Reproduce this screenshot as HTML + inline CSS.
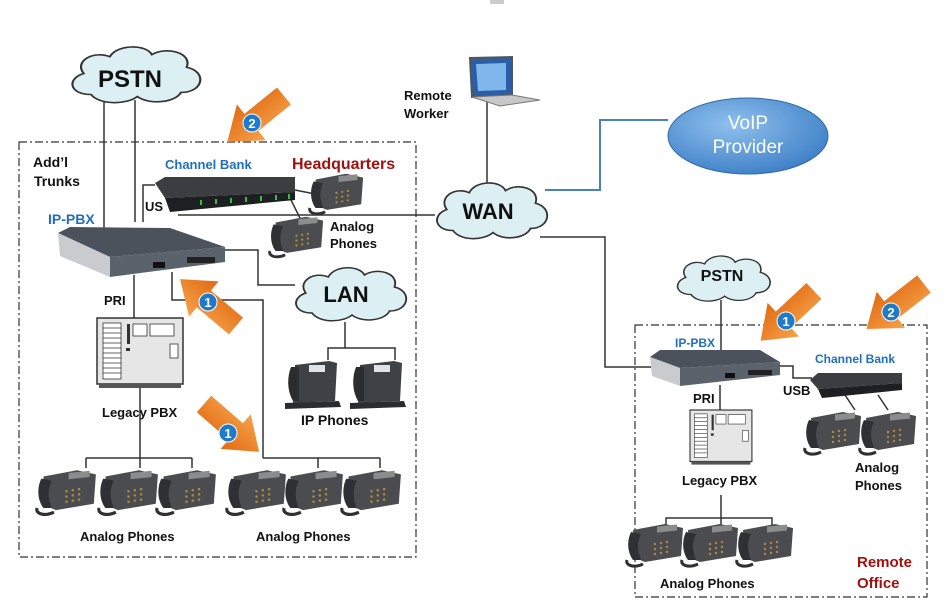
<!DOCTYPE html>
<html><head><meta charset="utf-8"><style>
html,body{margin:0;padding:0;background:#fff;}
svg{display:block;}
text{font-family:"Liberation Sans",Arial,sans-serif;font-weight:bold;}
</style></head><body>
<svg width="951" height="616" viewBox="0 0 951 616" xmlns="http://www.w3.org/2000/svg">
<defs>
<linearGradient id="og" x1="0" y1="0" x2="0" y2="1"><stop offset="0" stop-color="#f7a24a"/><stop offset="1" stop-color="#e06a12"/></linearGradient>
<radialGradient id="vg" cx="0.4" cy="0.35" r="0.7"><stop offset="0" stop-color="#8fc0ee"/><stop offset="1" stop-color="#3d7fc6"/></radialGradient>
<path id="cloud" d="M20,50 C5,50 3,35 15,30 C8,18 22,8 33,14 C38,2 58,2 62,12 C72,4 90,10 86,24 C100,28 98,48 82,48 C78,58 60,60 52,52 C44,60 26,60 20,50 Z"/>
<g id="arrow"><polygon points="0,-11 42,-11 42,-23 73,0 42,23 42,11 0,11" fill="url(#og)"/></g>
<g id="ph">
<path d="M8,10 L40,4 L58,8 L56,36 L20,42 L10,38 Z" fill="#4a4c50"/>
<path d="M6,12 C2,20 2,32 8,40 L16,40 C12,30 12,22 16,14 Z" fill="#2e3033"/>
<path d="M2,40 C0,46 10,48 18,44" stroke="#2e3033" stroke-width="3" fill="none"/>
<rect x="32" y="10" width="20" height="6" fill="#8a8d8c" transform="skewY(-6)"/>
<g fill="#b08a3a"><circle cx="30" cy="24" r="1.2"/><circle cx="36" cy="23" r="1.2"/><circle cx="42" cy="22" r="1.2"/><circle cx="30" cy="29" r="1.2"/><circle cx="36" cy="28" r="1.2"/><circle cx="42" cy="27" r="1.2"/><circle cx="30" cy="34" r="1.2"/><circle cx="36" cy="33" r="1.2"/><circle cx="42" cy="32" r="1.2"/></g>
</g>
<g id="ipph">
<path d="M10,8 L44,4 L52,6 L50,44 L8,46 Z" fill="#3e4145"/>
<path d="M6,10 C2,20 2,34 8,44 L14,44 L14,10 Z" fill="#2a2c2f"/>
<rect x="24" y="8" width="16" height="7" fill="#dfe3e4"/>
<path d="M0,46 L54,44 L56,50 L0,52 Z" fill="#2a2c2f"/>
</g>
<g id="lpbx">
<rect x="0" y="0" width="86" height="66" fill="#e6e6e6" stroke="#333" stroke-width="1.5"/>
<g fill="#fff" stroke="#333" stroke-width="0.8"><rect x="6" y="5" width="18" height="56"/><rect x="36" y="6" width="14" height="12"/><rect x="53" y="6" width="24" height="12"/><rect x="73" y="26" width="8" height="14"/></g>
<g stroke="#333" stroke-width="0.8"><line x1="6" y1="10" x2="24" y2="10"/><line x1="6" y1="15" x2="24" y2="15"/><line x1="6" y1="20" x2="24" y2="20"/><line x1="6" y1="25" x2="24" y2="25"/><line x1="6" y1="30" x2="24" y2="30"/><line x1="6" y1="35" x2="24" y2="35"/><line x1="6" y1="40" x2="24" y2="40"/><line x1="6" y1="45" x2="24" y2="45"/><line x1="6" y1="50" x2="24" y2="50"/><line x1="6" y1="55" x2="24" y2="55"/></g>
<rect x="30" y="6" width="3" height="20" fill="#333"/><rect x="29" y="30" width="4" height="3" fill="#333"/>
<rect x="2" y="66" width="82" height="4" fill="#555"/>
</g>
</defs>

<!-- title hint -->
<rect x="490" y="0" width="14" height="4" fill="#ccc"/>

<!-- boxes -->
<rect x="19" y="142" width="397" height="415" fill="none" stroke="#333" stroke-width="1.2" stroke-dasharray="8,3,2,3"/>
<rect x="635" y="325" width="292" height="272" fill="none" stroke="#333" stroke-width="1.2" stroke-dasharray="8,3,2,3"/>

<!-- lines -->
<g stroke="#333" stroke-width="1.5" fill="none">
<line x1="104" y1="100" x2="104" y2="230"/>
<line x1="135" y1="100" x2="135" y2="222"/>
<polyline points="143,222 143,185 155,185"/>
<line x1="178" y1="215" x2="435" y2="215"/>
<polyline points="225,250 258,250 258,285 295,285"/>
<line x1="295" y1="190" x2="320" y2="195"/>
<line x1="290" y1="198" x2="300" y2="218"/>
<line x1="487" y1="102" x2="487" y2="183"/>
<polyline points="540,237 605,237 605,367 652,367"/>
<line x1="134" y1="275" x2="134" y2="320"/>
<polyline points="172,272 172,300 263,300 263,458"/>
<line x1="140" y1="388" x2="140" y2="458"/>
<line x1="86" y1="458" x2="192" y2="458"/>
<polyline points="86,458 86,468"/><polyline points="140,458 140,468"/><polyline points="192,458 192,468"/>
<line x1="263" y1="458" x2="380" y2="458"/>
<polyline points="318,458 318,468"/><polyline points="380,458 380,468"/>
<line x1="345" y1="322" x2="345" y2="348"/>
<polyline points="328,360 328,348 395,348 395,360"/>
<line x1="721" y1="300" x2="721" y2="352"/>
<line x1="720" y1="385" x2="720" y2="412"/>
<polyline points="780,366 793,366 793,378 812,378"/>
<line x1="845" y1="395" x2="855" y2="410"/>
<line x1="878" y1="395" x2="888" y2="410"/>
<line x1="721" y1="495" x2="721" y2="528"/>
<polyline points="666,528 666,518 772,518 772,528"/>
</g>
<polyline points="545,190 600,190 600,120 668,120" stroke="#4a7fc1" stroke-width="2" fill="none"/>

<!-- clouds -->
<g fill="#dcf0f3" stroke="#333" stroke-width="1.5">
<use href="#cloud" transform="translate(62,42) scale(1.45,1.05)" vector-effect="non-scaling-stroke"/>
<use href="#cloud" transform="translate(428,178) scale(1.25,1.05)"/>
<use href="#cloud" transform="translate(287,263) scale(1.25,1.0)"/>
<use href="#cloud" transform="translate(670,252) scale(1.05,0.85)"/>
</g>
<text x="130" y="87" font-size="24" text-anchor="middle" fill="#111">PSTN</text>
<text x="488" y="219" font-size="22" text-anchor="middle" fill="#111">WAN</text>
<text x="346" y="302" font-size="22" text-anchor="middle" fill="#111">LAN</text>
<text x="722" y="281" font-size="16" text-anchor="middle" fill="#111">PSTN</text>

<!-- VoIP -->
<ellipse cx="748" cy="136" rx="80" ry="38" fill="url(#vg)" stroke="#2f6aa8" stroke-width="1"/>
<text x="748" y="129" font-size="19" font-weight="normal" style="font-weight:normal" text-anchor="middle" fill="#fff">VoIP</text>
<text x="748" y="153" font-size="19" style="font-weight:normal" text-anchor="middle" fill="#fff">Provider</text>

<!-- laptop -->
<polygon points="470,58 512,57 512,95 472,97" fill="#2a5ea8" stroke="#555" stroke-width="2"/>
<polygon points="476,64 506,63 506,90 478,91" fill="#7fb7ec"/>
<polygon points="472,97 512,95 540,100 500,106" fill="#c8c8c8" stroke="#777"/>
<text x="404" y="100" font-size="13" fill="#111">Remote</text>
<text x="404" y="118" font-size="13" fill="#111">Worker</text>

<!-- HQ channel bank -->
<polygon points="155,183 165,177 295,177 295,192 165,198" fill="#3b3d40"/>
<polygon points="165,198 295,192 295,200 170,212" fill="#1d1f22"/>
<g fill="#34c03a"><rect x="200" y="200" width="2" height="5"/><rect x="215" y="199" width="2" height="5"/><rect x="230" y="198" width="2" height="5"/><rect x="245" y="197" width="2" height="5"/><rect x="260" y="196" width="2" height="5"/><rect x="275" y="195" width="2" height="5"/><rect x="288" y="194" width="2" height="5"/></g>
<!-- HQ IP-PBX -->
<polygon points="58,233 70,227 170,228 225,247 110,257" fill="#4b525b"/>
<polygon points="58,233 110,257 110,277 60,256" fill="#c9cbcf"/>
<polygon points="110,257 225,247 225,262 110,277" fill="#5a626c"/>
<rect x="153" y="262" width="12" height="6" fill="#111"/><rect x="187" y="257" width="28" height="6" fill="#222"/>
<!-- remote IP-PBX -->
<polygon points="650,357 660,350 760,350 780,362 680,368" fill="#4b525b"/>
<polygon points="650,357 680,368 680,386 652,376" fill="#c9cbcf"/>
<polygon points="680,368 780,362 780,375 680,386" fill="#5a626c"/>
<rect x="725" y="373" width="10" height="5" fill="#111"/><rect x="748" y="370" width="24" height="5" fill="#222"/>
<!-- remote channel bank -->
<polygon points="810,380 818,373 902,373 902,383 818,389" fill="#3b3d40"/>
<polygon points="818,389 902,383 902,390 822,398" fill="#1d1f22"/>

<!-- legacy PBX -->
<use href="#lpbx" transform="translate(97,318)"/>
<use href="#lpbx" transform="translate(690,410) scale(0.72,0.78)"/>

<!-- phones -->
<use href="#ph" transform="translate(308,170) scale(0.95)"/>
<use href="#ph" transform="translate(268,213) scale(0.95)"/>
<use href="#ph" transform="translate(35,466) scale(1.05)"/>
<use href="#ph" transform="translate(97,466) scale(1.05)"/>
<use href="#ph" transform="translate(155,466) scale(1.05)"/>
<use href="#ph" transform="translate(225,466) scale(1.05)"/>
<use href="#ph" transform="translate(282,466) scale(1.05)"/>
<use href="#ph" transform="translate(340,466) scale(1.05)"/>
<use href="#ph" transform="translate(803,408) scale(1.0)"/>
<use href="#ph" transform="translate(858,408) scale(1.0)"/>
<use href="#ph" transform="translate(625,520) scale(1.0)"/>
<use href="#ph" transform="translate(680,520) scale(1.0)"/>
<use href="#ph" transform="translate(735,520) scale(1.0)"/>
<use href="#ipph" transform="translate(285,357)"/>
<use href="#ipph" transform="translate(350,357)"/>

<!-- arrows -->
<use href="#arrow" transform="translate(284,96) rotate(141)"/>
<use href="#arrow" transform="translate(236,326) rotate(220)"/>
<use href="#arrow" transform="translate(204,404) rotate(41)"/>
<use href="#arrow" transform="translate(814,291) rotate(137)"/>
<use href="#arrow" transform="translate(924,284) rotate(142)"/>
<g fill="#1f7ac9" stroke="#fff" stroke-width="1"><circle cx="252" cy="123" r="9"/><circle cx="208" cy="302" r="9"/><circle cx="228" cy="433" r="9"/><circle cx="786" cy="321" r="9"/><circle cx="891" cy="312" r="9"/></g>
<g fill="#fff" font-size="13" text-anchor="middle"><text x="252" y="128">2</text><text x="208" y="307">1</text><text x="228" y="438">1</text><text x="786" y="326">1</text><text x="891" y="317">2</text></g>

<!-- labels -->
<g fill="#111" font-size="14">
<text x="33" y="167">Add’l</text><text x="34" y="186">Trunks</text>
<text x="145" y="211" font-size="13">US</text>
<text x="330" y="231" font-size="13">Analog</text><text x="330" y="248" font-size="13">Phones</text>
<text x="104" y="305" font-size="13">PRI</text>
<text x="102" y="417" font-size="13">Legacy PBX</text>
<text x="301" y="425" font-size="14">IP Phones</text>
<text x="80" y="541" font-size="13">Analog Phones</text>
<text x="256" y="541" font-size="13">Analog Phones</text>
<text x="693" y="403" font-size="13">PRI</text>
<text x="783" y="395" font-size="13">USB</text>
<text x="682" y="485" font-size="13">Legacy PBX</text>
<text x="855" y="472" font-size="13">Analog</text><text x="855" y="490" font-size="13">Phones</text>
<text x="660" y="588" font-size="13">Analog Phones</text>
</g>
<g fill="#1f6fbf"><text x="165" y="169" font-size="13">Channel Bank</text><text x="48" y="224" font-size="14">IP-PBX</text><text x="675" y="347" font-size="12">IP-PBX</text><text x="815" y="363" font-size="12">Channel Bank</text></g>
<g fill="#a01010"><text x="292" y="169" font-size="16">Headquarters</text><text x="857" y="567" font-size="15">Remote</text><text x="857" y="588" font-size="15">Office</text></g>
</svg>
</body></html>
